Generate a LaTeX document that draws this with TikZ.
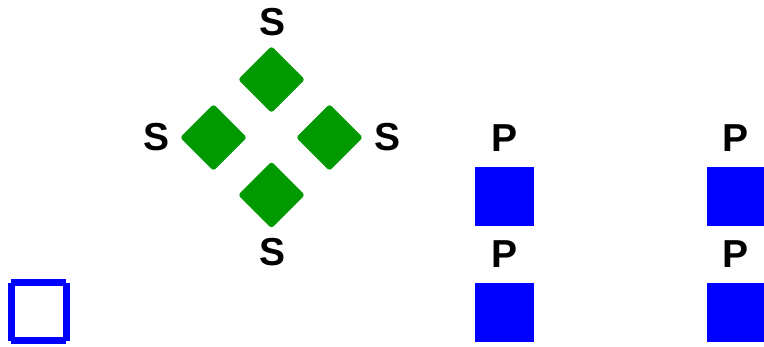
\documentclass[tikz,border=0pt]{standalone}
\usepackage{fontspec}
\setmainfont{Liberation Sans}
\usetikzlibrary{shapes.geometric}
\definecolor{sgreen}{RGB}{0,153,0}
\definecolor{pblue}{RGB}{0,0,255}
\begin{document}
\begin{tikzpicture}[x=1pt,y=-1pt,
  lbl/.style={inner sep=0pt,font=\fontsize{39}{39}\selectfont\bfseries},
  sdiam/.style={diamond,aspect=1,fill=sgreen,draw=none,inner sep=0pt,
    minimum width=67pt,minimum height=67pt,rounded corners=3pt},
  pbox/.style={rectangle,fill=pblue,draw=none,inner sep=0pt,
    minimum width=59pt,minimum height=59pt}]
\useasboundingbox (0,0) rectangle (764,346);
% four green diamonds in a ring
\node[sdiam] (dt) at (271.5,79.5) {};
\node[sdiam] (dl) at (213.5,137.5) {};
\node[sdiam] (dr) at (329.5,137.5) {};
\node[sdiam] (db) at (271.5,195) {};
\node[lbl] (st) at (273,22) {S};
\node[lbl] (sl) at (156.5,137) {S};
\node[lbl] (sr) at (388,137) {S};
\node[lbl] (sb) at (273,252.5) {S};
% blue squares with labels
\node[pbox] (p1) at (504.5,196.5) {};
\node[pbox] (p2) at (736.5,196.5) {};
\node[pbox] (p3) at (504.5,312.5) {};
\node[pbox] (p4) at (736.5,312.5) {};
\node[lbl] (l1) at (505,138) {P};
\node[lbl] (l2) at (736,138) {P};
\node[lbl] (l3) at (505,254) {P};
\node[lbl] (l4) at (736,254) {P};
% open outline square, sides drawn separately
\coordinate (c1) at (11,282.5);
\coordinate (c2) at (66,282.5);
\coordinate (c3) at (66,340.5);
\coordinate (c4) at (11,340.5);
\begin{scope}[draw=pblue,line width=7pt,line cap=butt]
\draw (c1) -- (c2);
\draw (c2) -- (c3);
\draw (c3) -- (c4);
\draw (c4) -- (c1);
\end{scope}
\end{tikzpicture}
\end{document}
